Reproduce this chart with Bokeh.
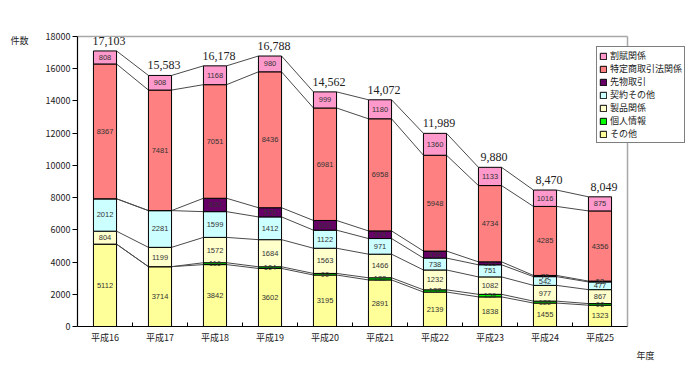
from bokeh.plotting import figure
from bokeh.models import (ColumnDataSource, FixedTicker, Legend, LegendItem, LabelSet,
                          LinearAxis, Title)
from bokeh.embed import file_html
from bokeh.resources import INLINE
from bokeh.core.properties import value

years = ["平成16", "平成17", "平成18", "平成19", "平成20", "平成21", "平成22", "平成23", "平成24", "平成25"]
sonota = [5112, 3714, 3842, 3602, 3195, 2891, 2139, 1838, 1455, 1323]
kojin = [0, 0, 116, 104, 99, 132, 137, 159, 120, 98]
seihin = [804, 1199, 1572, 1684, 1563, 1466, 1232, 1082, 977, 867]
keiyaku = [2012, 2281, 1599, 1412, 1122, 971, 738, 751, 542, 477]
sakimono = [0, 0, 830, 570, 603, 474, 435, 183, 75, 53]
tokutei = [8367, 7481, 7051, 8436, 6981, 6958, 5948, 4734, 4285, 4356]
kappu = [808, 908, 1168, 980, 999, 1180, 1360, 1133, 1016, 875]
totals = [17103, 15583, 16178, 16788, 14562, 14072, 11989, 9880, 8470, 8049]
y_ticks = list(range(0, 18001, 2000))

series_names = ["その他", "個人情報", "製品関係", "契約その他", "先物取引", "特定商取引法関係", "割賦関係"]
series_values = [sonota, kojin, seihin, keiyaku, sakimono, tokutei, kappu]
series_colors = ["#FFFF99", "#00FF00", "#FFFFCC", "#CCFFFF", "#660066", "#FF8080", "#FF99CC"]
keys = ["s%d" % i for i in range(len(series_names))]

JP = "Noto Sans CJK JP"
BAR_W = 0.42
xs = list(range(len(years)))
YMAX = y_ticks[-1]

# layout (pixels)
W, H = 691, 361
F_LEFT, F_TOP, F_BOTTOM = 77, 26, 326
AXIS_TOP_PX = 36          # pixel row of YMAX
PLOT_RIGHT_PX = 627       # pixel column of the right border
px_per_unit = (PLOT_RIGHT_PX - F_LEFT) / len(years)
x_end = -0.5 + (W - F_LEFT) / px_per_unit
y_end = YMAX * (F_BOTTOM - F_TOP) / (F_BOTTOM - AXIS_TOP_PX)

p = figure(width=W, height=H, x_range=(-0.5, x_end), y_range=(0, y_end),
           output_backend="svg", toolbar_location=None,
           min_border_left=F_LEFT, min_border_right=0, min_border_top=F_TOP,
           min_border_bottom=H - F_BOTTOM)
p.background_fill_color = "white"
p.border_fill_color = "white"
p.outline_line_color = None
p.xgrid.grid_line_color = None
p.ygrid.grid_line_color = None

# plot-area top and right border (gray)
p.segment(x0=[-0.5, len(years) - 0.5], y0=[YMAX, 0], x1=[len(years) - 0.5, len(years) - 0.5],
          y1=[YMAX, YMAX], line_color="#a8a8a8", line_width=1.5)

# connector lines between bars
cum = [0] * len(years)
levels = []
for vals in series_values:
    cum = [c + v for c, v in zip(cum, vals)]
    levels.append(cum)
x0s, x1s, y0s, y1s = [], [], [], []
for lev in levels:
    for i in range(len(years) - 1):
        x0s.append(xs[i] + BAR_W / 2)
        x1s.append(xs[i + 1] - BAR_W / 2)
        y0s.append(lev[i])
        y1s.append(lev[i + 1])
p.segment(x0=x0s, y0=y0s, x1=x1s, y1=y1s, line_color="#4a4a4a", line_width=1)

data = {"x": xs}
for k, vals in zip(keys, series_values):
    data[k] = vals
src = ColumnDataSource(data)
rends = p.vbar_stack(keys, x="x", width=BAR_W, color=series_colors, line_color="black",
                     line_width=1, source=src)

# segment labels
lx, ly, lt = [], [], []
bottom = [0] * len(years)
for vals in series_values:
    for i, v in enumerate(vals):
        if v > 0:
            lx.append(xs[i])
            ly.append(bottom[i] + v / 2)
            lt.append(str(v))
    bottom = [b + v for b, v in zip(bottom, vals)]
p.text(x=lx, y=ly, text=lt, text_font=value("Liberation Sans"), text_font_size="7.5px",
       text_color="#333333", text_align="center", text_baseline="middle")

# totals
tsrc = ColumnDataSource({"x": xs, "y": totals, "t": ["{:,}".format(t) for t in totals]})
p.add_layout(LabelSet(x="x", y="y", text="t", source=tsrc, y_offset=6, x_offset=4,
                      text_font=value("Liberation Serif"), text_font_size="12px",
                      text_color="#222222", text_align="center", text_baseline="bottom",
                      background_fill_color="white"))

# axes
p.xaxis.bounds = (-0.5, len(years) - 0.5)
p.xaxis.ticker = FixedTicker(ticks=xs, minor_ticks=[i + 0.5 for i in xs[:-1]])
p.xaxis.major_label_overrides = {i: y for i, y in zip(xs, years)}
p.xaxis.major_tick_in = 0
p.xaxis.major_tick_out = 0
p.xaxis.minor_tick_in = 4
p.xaxis.minor_tick_out = 0
p.xaxis.minor_tick_line_color = "black"
p.xaxis.major_label_standoff = 4
p.yaxis.bounds = (0, YMAX)
p.yaxis.ticker = FixedTicker(ticks=y_ticks)
p.yaxis.major_tick_in = 0
p.yaxis.major_tick_out = 5
p.yaxis.minor_tick_line_color = None
p.yaxis.major_label_standoff = 2
for ax in (p.xaxis, p.yaxis):
    ax.axis_line_color = "black"
    ax.axis_line_width = 1.2
    ax.major_tick_line_color = "black"
    ax.major_label_text_font = JP
    ax.major_label_text_font_size = "9px"
    ax.major_label_text_color = "#222222"

# unit label "件数" as an outer left axis with a single tick
unit_y = YMAX - 4 * YMAX / (F_BOTTOM - AXIS_TOP_PX)
unit_ax = LinearAxis(ticker=FixedTicker(ticks=[unit_y]), major_label_overrides={unit_y: "件数"},
                     axis_line_color=None, major_tick_line_color=None, minor_tick_line_color=None,
                     major_label_standoff=8, major_label_text_font=JP,
                     major_label_text_font_size="9px", major_label_text_color="#222222")
p.add_layout(unit_ax, "left")

# "年度" below, right side
p.add_layout(Title(text="年度", align="left", offset=559, standoff=0, text_font=JP,
                   text_font_size="9px", text_font_style="normal", text_color="#222222"), "below")

items = [LegendItem(label=n, renderers=[r]) for n, r in zip(series_names, rends)][::-1]
legend = Legend(items=items, location=(596 - F_LEFT, F_BOTTOM - 143), border_line_color="black",
                border_line_width=1, background_fill_color="white", background_fill_alpha=1.0,
                padding=2, spacing=0, margin=0, label_height=11, glyph_height=8, glyph_width=8,
                label_standoff=3, label_text_font=JP, label_text_font_size="9px",
                label_text_color="#222222")
p.add_layout(legend)

open("out.html", "w").write(file_html(p, INLINE))
